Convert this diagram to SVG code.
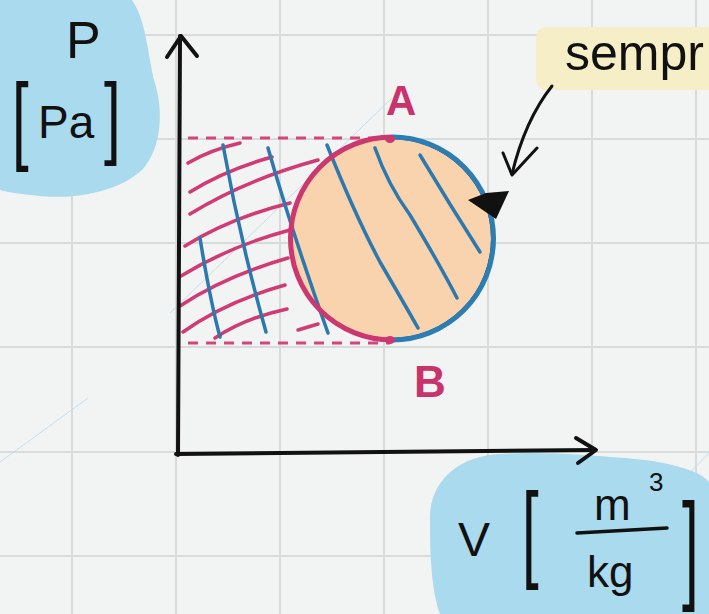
<svg xmlns="http://www.w3.org/2000/svg" width="709" height="614" viewBox="0 0 709 614">
  <style>
    .grid { stroke: #d9dbdb; stroke-width: 2; fill: none; }
    .wm { stroke: #b9d9ec; stroke-width: 1; fill: none; opacity: 0.8; }
    .blob { fill: #a9daee; }
    .ink { font-family: "Liberation Sans", "DejaVu Sans", sans-serif; fill: #111; }
    .pinktxt { font-family: "Liberation Sans", "DejaVu Sans", sans-serif; fill: #c9336c; font-weight: bold; }
    .dash { stroke: #d5457c; stroke-width: 3; stroke-dasharray: 10 8; fill: none; }
    .phatch { stroke: #d03b74; stroke-width: 3.5; fill: none; stroke-linecap: round; }
    .bhatch { stroke: #2d79ad; stroke-width: 3.5; fill: none; stroke-linecap: round; }
    .axis { stroke: #111; stroke-width: 4; fill: none; stroke-linecap: round; stroke-linejoin: round; }
  </style>
  <rect width="709" height="614" fill="#f2f3f3"/>
  <g id="grid">
    <path class="grid" d="M72,0V614M176,0V614M280,0V614M384,0V614M488,0V614M592,0V614M696,0V614"/>
    <path class="grid" d="M0,35H709M0,139H709M0,243H709M0,347H709M0,452H709M0,556H709"/>
  </g>
  <g id="watermark">
    <path class="wm" d="M0,462L88,398"/>
    <path class="wm" d="M170,313L392,98"/>
    <path class="wm" d="M553,614L709,453"/>
  </g>
  <g id="p-label">
    <path class="blob" d="M0,0 L132,0 C146,20 148,55 154,80 C164,110 162,148 142,170 C120,190 80,200 40,196 C20,194 6,192 0,190 Z"/>
    <text class="ink" x="66" y="58" font-size="52">P</text>
    <text class="ink" font-size="60" transform="translate(12,152) scale(1,1.65)">[</text>
    <text class="ink" x="38" y="138" font-size="46">Pa</text>
    <text class="ink" font-size="60" transform="translate(104,147) scale(1,1.52)">]</text>
  </g>
  <g id="v-label">
    <path class="blob" d="M430,522 C428,482 458,456 500,454 C545,451 585,455 625,458 C665,461 700,470 709,482 L709,614 L440,614 C432,592 430,560 430,522 Z"/>
    <text class="ink" x="458" y="556" font-size="48">V</text>
    <text class="ink" font-size="60" transform="translate(522,568) scale(1,1.78)">[</text>
    <text class="ink" x="594" y="520" font-size="44">m</text>
    <text class="ink" x="649" y="491" font-size="26">3</text>
    <path d="M577,533 L667,528" stroke="#111" stroke-width="3.5" stroke-linecap="round"/>
    <text class="ink" x="587" y="587" font-size="44">kg</text>
    <text class="ink" font-size="60" transform="translate(682,587) scale(1,2.0)">]</text>
  </g>
  <g id="note">
    <path d="M548,27 H709 V90 H548 Q536,90 536,78 V39 Q536,27 548,27 Z" fill="#f6eec6"/>
    <text class="ink" x="565" y="70" font-size="50">sempr</text>
  </g>
  <g id="bounds">
    <path class="dash" d="M188,138 H392"/>
    <path class="dash" d="M188,343 H390"/>
  </g>
  <g id="cycle">
    <circle cx="391.5" cy="238.5" r="102" fill="#f8d3ad"/>
    <g id="hatch-pink">
      <path class="phatch" d="M188,163 Q210,150 240,143"/>
      <path class="phatch" d="M190,192 Q225,170 272,157"/>
      <path class="phatch" d="M190,214 Q245,180 318,160"/>
      <path class="phatch" d="M185,246 Q230,218 290,203"/>
      <path class="phatch" d="M181,276 Q230,246 290,230"/>
      <path class="phatch" d="M180,306 Q225,276 288,258"/>
      <path class="phatch" d="M183,332 Q225,302 285,285"/>
      <path class="phatch" d="M215,338 Q245,318 287,309"/>
      <path class="phatch" d="M298,330 L318,324"/>
    </g>
    <g id="hatch-blue">
      <path class="bhatch" d="M223,145 Q240,240 266,332"/>
      <path class="bhatch" d="M268,148 Q292,232 328,333"/>
      <path class="bhatch" d="M200,238 Q210,300 220,337"/>
      <path class="bhatch" d="M327,145 Q355,215 380,262 Q405,305 418,328"/>
      <path class="bhatch" d="M375,148 Q388,185 410,215 Q440,265 457,298"/>
      <path class="bhatch" d="M420,155 Q450,205 480,252"/>
    </g>
    <circle cx="391.5" cy="238.5" r="101" fill="none" stroke="#222" stroke-width="3"/>
    <path d="M392,137 A101.5,101.5 0 0 0 392,340" fill="none" stroke="#cc3770" stroke-width="5"/>
    <path d="M392,137 A101.5,101.5 0 0 1 392,340" fill="none" stroke="#2c7db3" stroke-width="5"/>
    <ellipse cx="390" cy="139" rx="5" ry="4" fill="#cc3770"/>
    <ellipse cx="390" cy="340" rx="5" ry="4" fill="#cc3770"/>
    <polygon points="468,200 486,193 509,191 496,219" fill="#111"/>
  </g>
  <g id="points">
    <text class="pinktxt" x="386" y="115" font-size="42">A</text>
    <text class="pinktxt" x="414" y="397" font-size="44">B</text>
  </g>
  <g id="connectors">
    <path class="axis" d="M178,455 L180,36"/>
    <path class="axis" d="M167,57 L181,36 L197,56"/>
    <path class="axis" d="M176,454 L594,450"/>
    <path class="axis" d="M576,438 L596,450 L578,463"/>
    <path d="M552,86 Q525,120 512,174" fill="none" stroke="#111" stroke-width="3" stroke-linecap="round"/>
    <path d="M503,153 L512,175 L537,148" fill="none" stroke="#111" stroke-width="3" stroke-linecap="round" stroke-linejoin="round"/>
  </g>
</svg>
